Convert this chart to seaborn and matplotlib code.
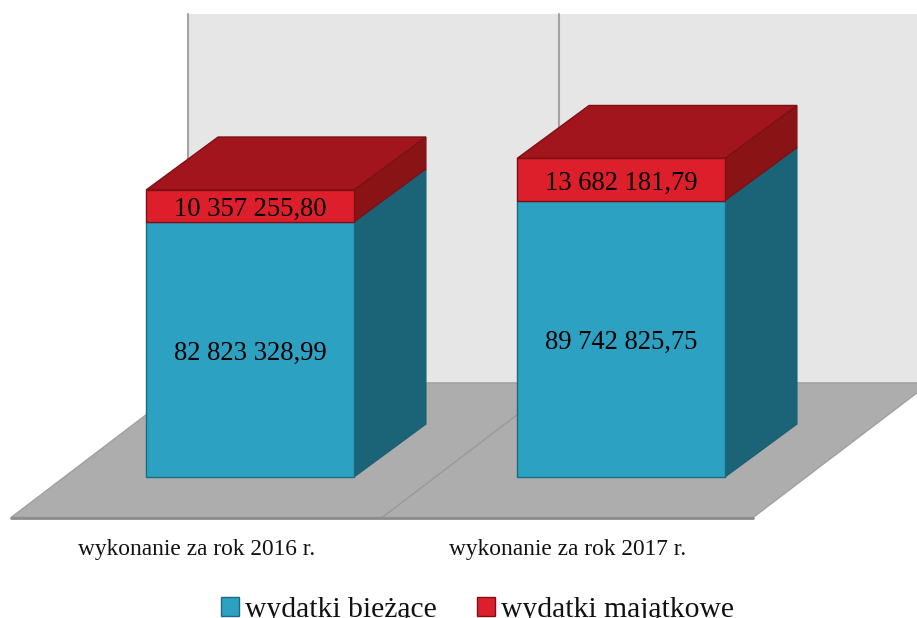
import matplotlib
matplotlib.use('Agg')
import matplotlib.pyplot as plt
import pandas as pd
import seaborn as sns

okresy = ['wykonanie za rok 2016 r.', 'wykonanie za rok 2017 r.']
biezace = [82823328.99, 89742825.75]
majatkowe = [10357255.80, 13682181.79]
serie = ['wydatki bieżące', 'wydatki majątkowe']

# 3D look, all in data units (1 category = 371 px, 1 mln = 3.08 px)
BAR_W = 0.56
DEPTH_X = 0.194
DEPTH_Y = 17.2e6
FLOOR_X = 0.477
FLOOR_Y = 43.7e6
FLOOR_LEFT = -0.644
FLOOR_FRONT = -13.15e6
WALL_TOP = 150.3e6


def polska_liczba(v):
    return f'{v:,.2f}'.replace(',', ' ').replace('.', ',')


def draw_sides(ax, i, low, high, side, edge, top=None):
    """Right side of one stacked block, and its top face if given."""
    x0, x1 = i - BAR_W / 2, i + BAR_W / 2
    ax.fill([x1, x1 + DEPTH_X, x1 + DEPTH_X, x1],
            [low, low + DEPTH_Y, high + DEPTH_Y, high],
            facecolor=side, edgecolor=edge, linewidth=1, zorder=3)
    if top:
        ax.fill([x0, x1, x1 + DEPTH_X, x0 + DEPTH_X],
                [high, high, high + DEPTH_Y, high + DEPTH_Y],
                facecolor=top, edgecolor=edge, linewidth=1, zorder=3)


sns.set_theme(style='white')
plt.rcParams['font.family'] = ['Liberation Serif', 'DejaVu Serif']

df = pd.DataFrame({'okres': okresy, 'biezace': biezace, 'majatkowe': majatkowe})

fig = plt.figure(figsize=(9.17, 6.18), dpi=100)
ax = fig.add_axes([0, 100.5 / 618, 1, 517.5 / 618])

# back wall and floor
n = len(okresy)
x_back = FLOOR_LEFT + FLOOR_X
y_back = FLOOR_FRONT + FLOOR_Y
ax.fill([x_back, x_back + n + 1, x_back + n + 1, x_back],
        [y_back, y_back, WALL_TOP, WALL_TOP], color='#e6e6e6', lw=0, zorder=0)
ax.fill([FLOOR_LEFT, FLOOR_LEFT + n, x_back + n, x_back],
        [FLOOR_FRONT, FLOOR_FRONT, y_back, y_back],
        facecolor='#adadad', edgecolor='#a0a0a0', lw=1, zorder=1)
for i in range(n):
    ax.plot([x_back + i, x_back + i], [y_back, WALL_TOP], color='#a3a3a3', lw=1.5, zorder=1)
ax.plot([FLOOR_LEFT + 1, x_back + 1], [FLOOR_FRONT, y_back], color='#999999', lw=1, zorder=1)
ax.plot([FLOOR_LEFT, FLOOR_LEFT + n], [FLOOR_FRONT, FLOOR_FRONT], color='#8c8c8c', lw=2,
        zorder=2, clip_on=False)

# front faces
sns.barplot(data=df, x='okres', y='biezace', color='#2ca1c1', saturation=1, width=BAR_W,
            edgecolor='#1b6a80', linewidth=1, zorder=4, ax=ax)
sns.barplot(data=df, x='okres', y='majatkowe', color='#dc1f2a', saturation=1, width=BAR_W,
            bottom=biezace, edgecolor='#7d1015', linewidth=1, zorder=4, ax=ax)

for i in range(n):
    draw_sides(ax, i, 0, biezace[i], '#1b6478', '#1b5f72')
    draw_sides(ax, i, biezace[i], biezace[i] + majatkowe[i], '#8a1316', '#7d1015', top='#a3151d')

for container, values in zip(ax.containers, [biezace, majatkowe]):
    texts = ax.bar_label(container, labels=[polska_liczba(v) for v in values],
                         label_type='center', fontsize=19.2, color='black', zorder=6)
    for t in texts:
        t.xyann = (0, -2.5)

ax.set_xlim(-250 / 371, (917 - 250) / 371)
ax.set_ylim(FLOOR_FRONT, 477 / 3.08 * 1e6)
ax.set_xticks([i + FLOOR_LEFT + 0.5 for i in range(n)], okresy, fontsize=16.8, color='#111111')
ax.tick_params(axis='x', length=0, pad=15.5)
ax.set_yticks([])
ax.set_xlabel('')
ax.set_ylabel('')
sns.despine(ax=ax, left=True, bottom=True, top=True, right=True)

fig.legend(ax.containers[:2], serie, loc='lower center', bbox_to_anchor=(0.5207, -0.032), ncol=2,
           frameon=False, fontsize=21.3, handlelength=0.61, handleheight=0.61,
           handletextpad=0.2, columnspacing=1.38, borderpad=0, labelcolor='#111111')

fig.savefig('out.png', dpi=100)
